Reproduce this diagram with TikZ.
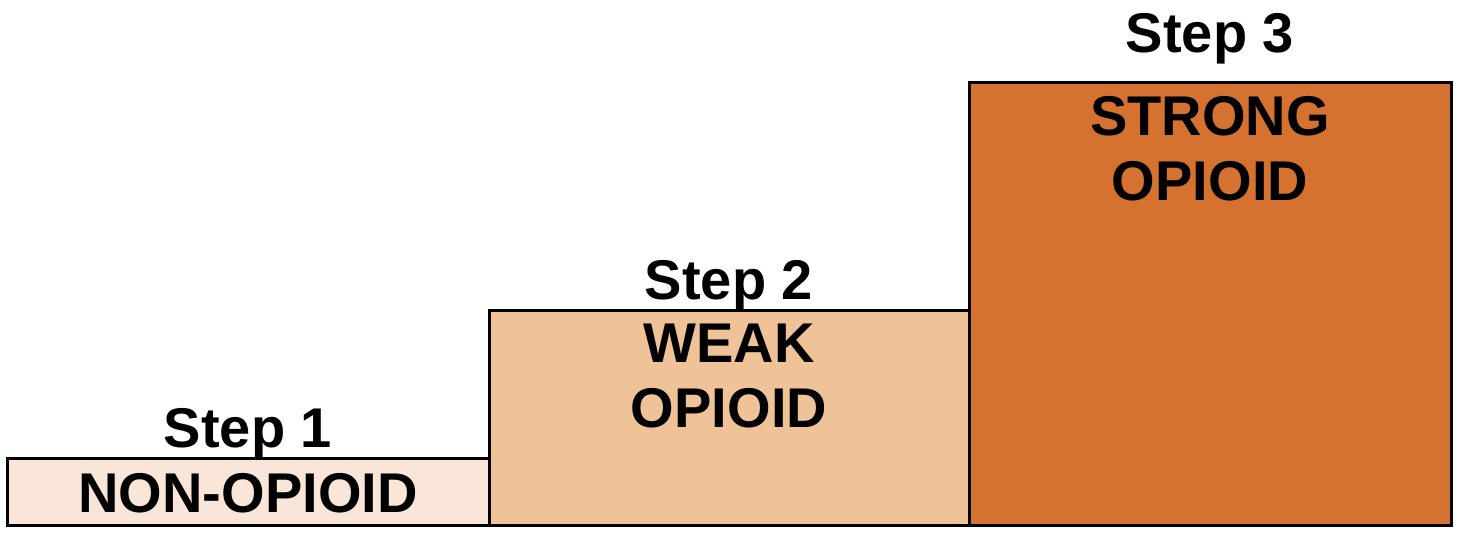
\documentclass[tikz,border=0pt]{standalone}
\usepackage{fontspec}
\setmainfont{Liberation Sans}
\usetikzlibrary{positioning}
\definecolor{nonopioid}{HTML}{FAE6D9}
\definecolor{weakopioid}{HTML}{EFC298}
\definecolor{strongopioid}{HTML}{D5722F}
\tikzset{
  stepbox/.style={rectangle, draw=black, line width=3pt, anchor=south west,
                  inner sep=0pt, outer sep=0pt, minimum width=480pt},
  steplabel/.style={inner sep=0pt, font=\fontsize{56}{65}\selectfont\bfseries},
  druglabel/.style={steplabel, align=center},
}
\begin{document}
\begin{tikzpicture}[x=1pt,y=1pt]
    \useasboundingbox (0,-10.5) rectangle (1460,525.5);
    \node[stepbox, fill=nonopioid, minimum height=66.5pt, minimum width=482pt] (box1) at (7,0) {};
    \node[stepbox, fill=weakopioid, minimum height=214.5pt] (box2) at (box1.south east) {};
    \node[stepbox, fill=strongopioid, minimum height=442.5pt, minimum width=482pt] (box3) at (box2.south east) {};
    % step headings above the boxes
    \node[steplabel, above=0pt of box1.north] (step1) {Step 1};
    \node[steplabel, above=0pt of box2.north] (step2) {Step 2};
    \node[steplabel, above=19pt of box3.north] (step3) {Step 3};
    % drug class in each box
    \node[druglabel, below=14pt of box1.north] (drug1) {NON-OPIOID};
    \node[druglabel, below=13pt of box2.north] (drug2) {WEAK\\OPIOID};
    \node[druglabel, below=13pt of box3.north] (drug3) {STRONG\\OPIOID};
\end{tikzpicture}
\end{document}
